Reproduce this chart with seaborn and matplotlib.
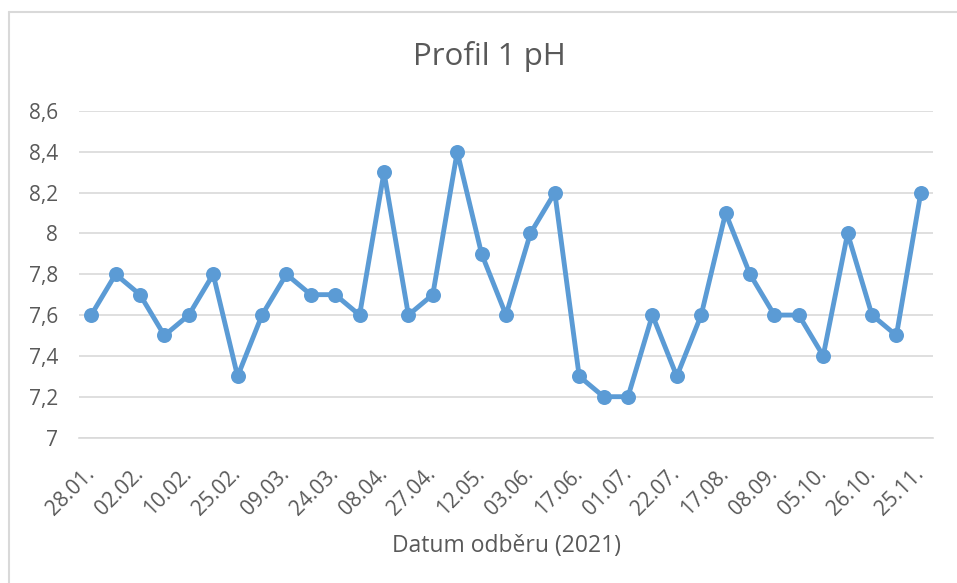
import pandas as pd
import matplotlib.pyplot as plt
from matplotlib.lines import Line2D
import seaborn as sns

# pH readings, one per sampling date (every other date is labelled on the axis)
ph_values = [7.6, 7.8, 7.7, 7.5, 7.6, 7.8, 7.3, 7.6, 7.8, 7.7, 7.7, 7.6,
             8.3, 7.6, 7.7, 8.4, 7.9, 7.6, 8.0, 8.2, 7.3, 7.2, 7.2, 7.6,
             7.3, 7.6, 8.1, 7.8, 7.6, 7.6, 7.4, 8.0, 7.6, 7.5, 8.2]
date_labels = ['28.01.', '02.02.', '10.02.', '25.02.', '09.03.', '24.03.',
               '08.04.', '27.04.', '12.05.', '03.06.', '17.06.', '01.07.',
               '22.07.', '17.08.', '08.09.', '05.10.', '26.10.', '25.11.']
y_ticks = [7.0, 7.2, 7.4, 7.6, 7.8, 8.0, 8.2, 8.4, 8.6]
y_tick_labels = ['7', '7,2', '7,4', '7,6', '7,8', '8', '8,2', '8,4', '8,6']

df = pd.DataFrame({'idx': range(len(ph_values)), 'pH': ph_values})

sns.set_theme(style="white")
plt.rcParams['font.family'] = ['Open Sans', 'DejaVu Sans']

text_color = '#595959'
blue = '#5B9BD5'

W, H = 957, 583
fig = plt.figure(figsize=(W / 100, H / 100), dpi=100)
ax = fig.add_axes([79 / W, 1 - 437.5 / H, (933 - 79) / W, (437.5 - 111) / H])

sns.lineplot(data=df, x='idx', y='pH', ax=ax, color=blue, linewidth=3.5,
             marker='o', markersize=10.8, markeredgewidth=0, zorder=3)

ax.set_xlim(-0.5, len(ph_values) - 0.5)
ax.set_ylim(7.0, 8.6)
ax.set_yticks(y_ticks)
ax.set_yticklabels(y_tick_labels)
ax.set_xticks(range(0, len(ph_values), 2))
ax.set_xticklabels(date_labels, rotation=45, ha='right', va='center',
                   rotation_mode='anchor')

ax.yaxis.grid(True, color='#D9D9D9', linewidth=1.2)
ax.xaxis.grid(False)
for s in ax.spines.values():
    s.set_visible(False)
ax.spines['bottom'].set_visible(True)
ax.spines['bottom'].set_color('#D9D9D9')
ax.spines['bottom'].set_linewidth(1.2)

ax.tick_params(axis='y', length=0, pad=15, labelsize=15, labelcolor=text_color)
ax.tick_params(axis='x', length=0, pad=24, labelsize=15, labelcolor=text_color)

ax.set_ylabel('')
ax.set_xlabel('Datum odběru (2021)', fontsize=16.5, color=text_color, labelpad=10)

fig.text(489 / W, 1 - 57 / H, 'Profil 1 pH', ha='center', va='center',
         fontsize=22.5, color=text_color)

# chart area border (left and top edges visible in the crop)
fig.add_artist(Line2D([9 / W, 9 / W], [0, 1 - 12 / H], transform=fig.transFigure,
                      color='#D9D9D9', linewidth=1.5))
fig.add_artist(Line2D([9 / W, 1], [1 - 12 / H, 1 - 12 / H], transform=fig.transFigure,
                      color='#D9D9D9', linewidth=1.5))

plt.savefig('out.png', dpi=100)
plt.close()
